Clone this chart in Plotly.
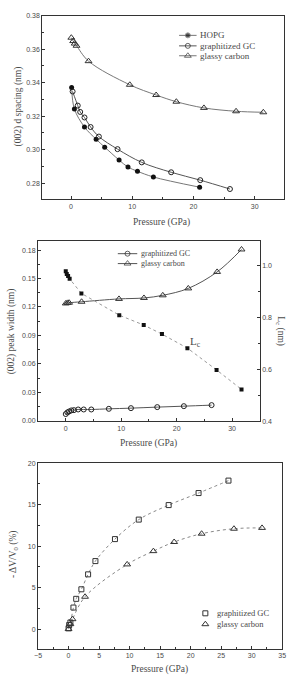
import plotly.graph_objects as go

# ---------------- Panel 1: (002) d spacing ----------------
hopg_p = [0.1, 0.55, 2.2, 4.1, 5.5, 7.85, 9.3, 10.85, 13.45, 21.0]
hopg_d = [0.3371, 0.3243, 0.3135, 0.3062, 0.3015, 0.2938, 0.2896, 0.2871, 0.2837, 0.2776]
ggc_p1 = [0.26, 1.1, 1.5, 2.2, 3.2, 4.55, 7.6, 11.55, 16.35, 21.1, 25.95]
ggc_d = [0.3347, 0.3263, 0.3225, 0.3192, 0.3135, 0.3078, 0.3003, 0.2924, 0.2865, 0.2818, 0.2765]
gc_p1 = [0.05, 0.35, 0.6, 0.9, 2.86, 9.6, 13.9, 17.2, 21.7, 26.95, 31.4]
gc_d = [0.3668, 0.3648, 0.3633, 0.3620, 0.3528, 0.3387, 0.3326, 0.3286, 0.3249, 0.3229, 0.3223]

# ---------------- Panel 2: peak width and Lc ----------------
ggc_p2 = [0.0, 0.29, 0.59, 1.0, 1.47, 2.23, 3.24, 4.6, 7.77, 11.76, 16.5, 21.3, 26.3]
ggc_w = [0.0070, 0.0087, 0.0097, 0.0108, 0.0111, 0.0118, 0.0118, 0.0118, 0.0125, 0.0132, 0.0143, 0.0153, 0.0164]
gc_p2 = [0.0, 0.3, 0.6, 2.85, 9.6, 14.1, 17.5, 22.1, 27.3, 31.7]
gc_w = [0.1237, 0.1243, 0.1245, 0.1255, 0.1285, 0.1295, 0.1323, 0.1396, 0.1570, 0.1807]
lc_p = [0.0, 0.18, 0.42, 0.7, 2.82, 9.65, 14.06, 17.35, 21.94, 27.2, 31.7]
lc_v = [0.978, 0.968, 0.960, 0.949, 0.893, 0.809, 0.771, 0.736, 0.682, 0.598, 0.523]

# ---------------- Panel 3: volume change ----------------
ggc_p3 = [0.0, 0.1, 0.3, 0.8, 1.25, 2.1, 3.2, 4.4, 7.6, 11.5, 16.4, 21.3, 26.2]
ggc_v = [0.1, 0.5, 0.8, 2.6, 3.65, 4.8, 6.6, 8.2, 10.85, 13.2, 14.95, 16.4, 17.9]
gc_p3 = [0.0, 0.3, 0.65, 2.7, 9.6, 13.9, 17.3, 21.8, 27.1, 31.7]
gc_v = [0.0, 0.6, 1.2, 3.9, 7.8, 9.4, 10.5, 11.5, 12.1, 12.2]

# legend labels
leg1_labels = ["HOPG", "graphitized GC", "glassy carbon"]
leg2_labels = ["graphitized GC", "glassy carbon"]
leg3_labels = ["graphitized GC", "glassy carbon"]

W, H = 293, 675
def xd(a, b):
    return [a / W, b / W]
def yd(top, bot):
    return [1 - bot / H, 1 - top / H]

SERIF = "Liberation Serif"
SANS = "Liberation Sans"
TXT = "#4a4a4a"
LINE = "#555555"
GRAYL = "#777777"

fig = go.Figure()

# style definitions for series
st_hopg = dict(line=dict(color=GRAYL, width=1), marker=dict(symbol="circle", color="#111111", size=5))
st_ggc = dict(line=dict(color=LINE, width=1), marker=dict(symbol="circle-open", color="#222222", size=5, line=dict(width=1)))
st_gc = dict(line=dict(color=GRAYL, width=1), marker=dict(symbol="triangle-up-open", color="#333333", size=6, line=dict(width=1)))
st_sq = dict(marker=dict(symbol="square-open", color="#333333", size=5, line=dict(width=1)))
st_tri = dict(marker=dict(symbol="triangle-up-open", color="#333333", size=6, line=dict(width=1)))

def sline(**kw):
    d = dict(kw["line"]); d["shape"] = "spline"
    return d

# Panel 1
fig.add_trace(go.Scatter(x=hopg_p, y=hopg_d, mode="lines+markers", line=sline(**st_hopg), marker=st_hopg["marker"], xaxis="x", yaxis="y"))
fig.add_trace(go.Scatter(x=ggc_p1, y=ggc_d, mode="lines+markers", line=sline(**st_ggc), marker=st_ggc["marker"], xaxis="x", yaxis="y"))
fig.add_trace(go.Scatter(x=gc_p1, y=gc_d, mode="lines+markers", line=sline(**st_gc), marker=st_gc["marker"], xaxis="x", yaxis="y"))

# Panel 2
fig.add_trace(go.Scatter(x=ggc_p2, y=ggc_w, mode="lines+markers", line=dict(color=LINE, width=1, shape="spline"),
                         marker=st_ggc["marker"], xaxis="x2", yaxis="y2"))
fig.add_trace(go.Scatter(x=gc_p2, y=gc_w, mode="lines+markers", line=dict(color=LINE, width=1, shape="spline"),
                         marker=st_gc["marker"], xaxis="x2", yaxis="y2"))
fig.add_trace(go.Scatter(x=lc_p, y=lc_v, mode="lines+markers",
                         line=dict(color="#9a9a9a", width=1, dash="dot"),
                         marker=dict(symbol="square", color="#111111", size=4),
                         xaxis="x2", yaxis="y3"))

# Panel 3
fig.add_trace(go.Scatter(x=ggc_p3, y=ggc_v, mode="lines", line=dict(color="#888888", width=1, dash="dot", shape="spline"),
                         xaxis="x3", yaxis="y4"))
fig.add_trace(go.Scatter(x=gc_p3, y=gc_v, mode="lines", line=dict(color="#888888", width=1, dash="dot", shape="spline"),
                         xaxis="x3", yaxis="y4"))
fig.add_trace(go.Scatter(x=ggc_p3, y=ggc_v, mode="markers", marker=st_sq["marker"], xaxis="x3", yaxis="y4"))
fig.add_trace(go.Scatter(x=gc_p3, y=gc_v, mode="markers", marker=st_tri["marker"], xaxis="x3", yaxis="y4"))

# ---------------- custom compact legends (pixel-space overlay axis) ----------------
ann = []
def legend_block(labels, styles, x0, x1, tx, ys, fsize, with_line=True):
    for lab, st, yy in zip(labels, styles, ys):
        xm = (x0 + x1) / 2
        if with_line:
            fig.add_trace(go.Scatter(x=[x0, xm, x1], y=[yy, yy, yy], mode="lines+markers",
                                     line=dict(color=st["line"]["color"], width=1),
                                     marker=dict(st["marker"], size=[0, st["marker"]["size"], 0]),
                                     xaxis="x4", yaxis="y5", hoverinfo="skip"))
        else:
            fig.add_trace(go.Scatter(x=[xm], y=[yy], mode="markers", marker=st["marker"],
                                     xaxis="x4", yaxis="y5", hoverinfo="skip"))
        ann.append(dict(text=lab, x=tx / W, y=1 - yy / H, xanchor="left",
                        font=dict(family=SERIF, size=fsize, color=TXT)))

legend_block(leg1_labels, [st_hopg, st_ggc, st_gc], 180, 198, 199, [31.7, 42.3, 52.3], 9)
legend_block(leg2_labels, [dict(st_ggc, line=dict(color=LINE, width=1)), dict(st_gc, line=dict(color=LINE, width=1))],
             117, 137, 139, [252.3, 262.3], 8)
legend_block(leg3_labels, [st_sq, st_tri], 202, 212, 217, [615.7, 626.7], 8.5, with_line=False)

def ax(**kw):
    base = dict(showgrid=False, zeroline=False, showline=True, linecolor="#333333", linewidth=1,
                mirror=True, ticks="inside", ticklen=3, tickcolor="#333333",
                tickfont=dict(family=SANS, size=7, color=TXT),
                minor=dict(ticks="inside", ticklen=2, tickcolor="#333333"))
    base.update(kw)
    return base

ttl = dict(family=SERIF, size=9.5, color=TXT)

fig.update_layout(
    width=W, height=H, margin=dict(l=0, r=0, t=0, b=0),
    paper_bgcolor="white", plot_bgcolor="rgba(0,0,0,0)", showlegend=False,
    xaxis=ax(domain=xd(39.3, 287.7), anchor="y", range=[-4.7, 34.75],
             tickvals=[0, 10, 20, 30], minor=dict(ticks="inside", ticklen=2, dtick=5, tick0=0, tickcolor="#333333")),
    yaxis=ax(domain=yd(11.7, 197.3), anchor="x", range=[0.2704, 0.38],
             tickvals=[0.28, 0.30, 0.32, 0.34, 0.36, 0.38], tickformat=".2f",
             minor=dict(ticks="inside", ticklen=2, dtick=0.01, tick0=0.28, tickcolor="#333333")),
    xaxis2=ax(domain=xd(35, 263), anchor="y2", range=[-5, 35],
              tickvals=[0, 10, 20, 30], minor=dict(ticks="inside", ticklen=2, dtick=5, tick0=0, tickcolor="#333333")),
    yaxis2=ax(domain=yd(239.7, 421.7), anchor="x2", range=[-0.0007, 0.1894], mirror=False,
              tickvals=[0, 0.03, 0.06, 0.09, 0.12, 0.15, 0.18], tickformat=".2f",
              minor=dict(ticks="inside", ticklen=2, dtick=0.015, tick0=0, tickcolor="#333333")),
    yaxis3=ax(domain=yd(239.7, 421.7), anchor="x2", overlaying="y2", side="right", range=[0.4, 1.094],
              mirror=False, tickvals=[0.4, 0.6, 0.8, 1.0], ticktext=["0.4", "0.6", "0.8", "1.0"],
              minor=dict(ticks="inside", ticklen=2, dtick=0.1, tick0=0.4, tickcolor="#333333")),
    xaxis3=ax(domain=xd(35, 286), anchor="y4", range=[-5, 35],
              tickvals=[-5, 0, 5, 10, 15, 20, 25, 30, 35],
              minor=dict(ticks="inside", ticklen=2, dtick=2.5, tick0=0, tickcolor="#333333")),
    yaxis4=ax(domain=yd(464, 651.7), anchor="x3", range=[-2.39, 20],
              tickvals=[0, 5, 10, 15, 20],
              minor=dict(ticks="inside", ticklen=2, dtick=2.5, tick0=0, tickcolor="#333333")),
    xaxis4=dict(domain=[0, 1], anchor="y5", range=[0, W], visible=False, fixedrange=True),
    yaxis5=dict(domain=[0, 1], anchor="x4", range=[H, 0], visible=False, fixedrange=True),
)

ann += [
    dict(text="Pressure (GPa)", x=162 / W, y=1 - 221 / H),
    dict(text="(002) d spacing (nm)", x=15 / W, y=1 - 104 / H, textangle=-90),
    dict(text="Pressure (GPa)", x=149 / W, y=1 - 444 / H),
    dict(text="(002) peak width (nm)", x=8 / W, y=1 - 331 / H, textangle=-90),
    dict(text="L<sub>c</sub> (nm)", x=284 / W, y=1 - 331 / H, textangle=90),
    dict(text="L<sub>c</sub>", x=197 / W, y=1 - 342 / H, font=dict(family=SERIF, size=11, color=TXT)),
    dict(text="- ΔV/V<sub>0</sub> (%)", x=10 / W, y=1 - 556 / H, textangle=-90),
    dict(text="Pressure (GPa)", x=160 / W, y=1 - 672 / H),
]
for a in ann:
    a.setdefault("font", ttl)
    a.setdefault("xanchor", "center")
    fig.add_annotation(xref="paper", yref="paper", showarrow=False, yanchor="middle", **a)

fig.write_html("out.html")
